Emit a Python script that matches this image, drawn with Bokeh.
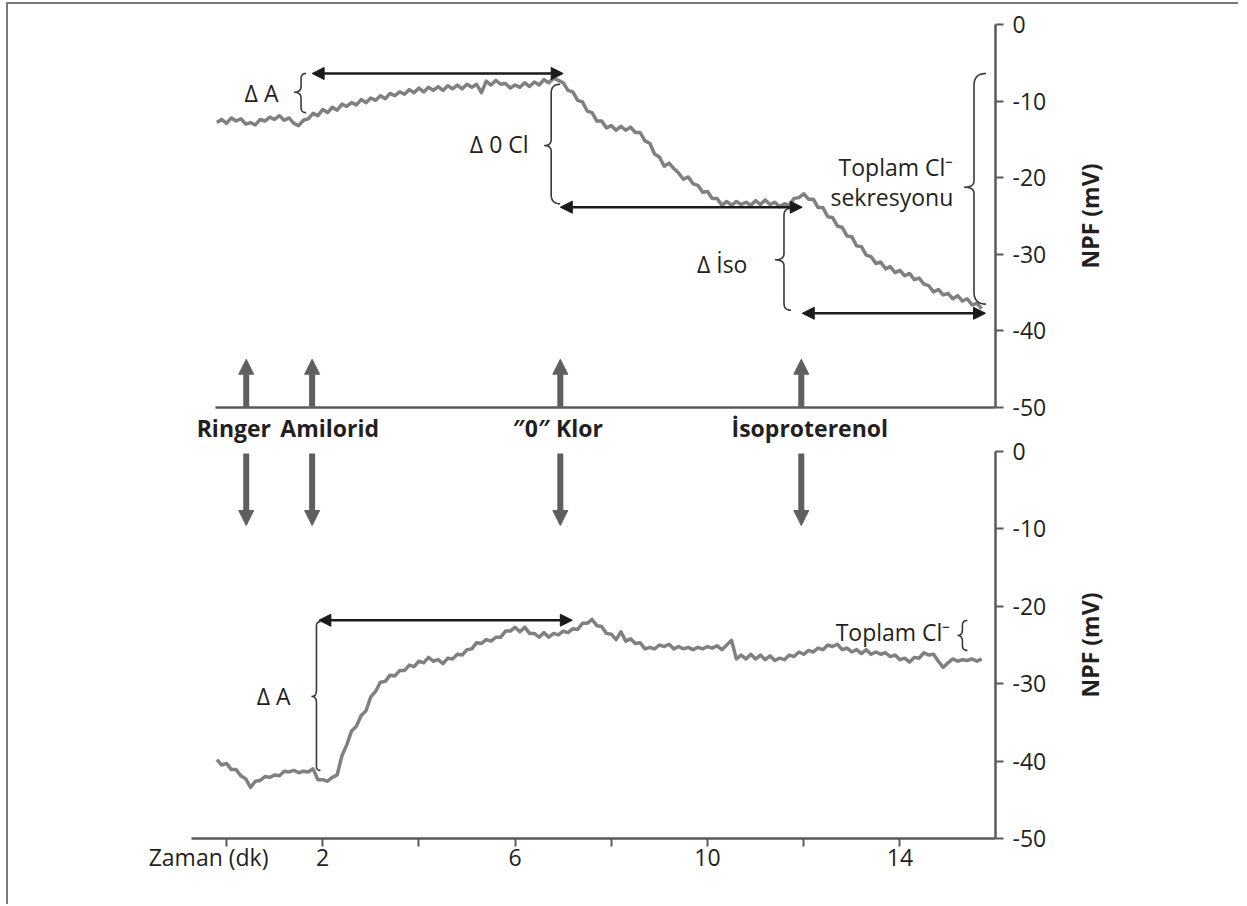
import numpy as np
from bokeh.plotting import figure
from bokeh.models import Range1d, LinearAxis, FixedTicker, Arrow, NormalHead, Label
from bokeh.layouts import column
from bokeh.embed import file_html
from bokeh.resources import INLINE

# ------------------------------------------------------------------ data
time_start = -0.2          # min
time_step = 0.1            # min

top_npf = [
    -12.8, -12.4, -12.9, -12.2, -12.6, -12.3, -13.0, -12.8, -13.1, -12.4,
    -12.6, -12.1, -12.4, -11.9, -12.5, -12.2, -12.9, -13.2, -12.5, -12.3,
    -11.6, -11.9, -11.1, -11.5, -10.8, -11.2, -10.4, -10.7, -10.2, -10.5,
    -9.8, -10.2, -9.6, -9.9, -9.3, -9.7, -9.0, -9.3, -8.8, -9.1,
    -8.5, -8.9, -8.3, -8.8, -8.2, -8.6, -8.1, -8.6, -8.0, -8.4,
    -7.9, -8.4, -7.8, -8.2, -7.8, -8.9, -7.4, -7.9, -7.3, -7.8,
    -7.7, -8.3, -7.9, -8.2, -7.6, -8.1, -7.5, -7.9, -7.2, -7.6,
    -7.0, -7.3, -7.6, -8.6, -8.8, -9.9, -10.1, -11.3, -11.5, -12.6,
    -12.6, -13.5, -13.2, -13.8, -13.3, -13.8, -13.4, -14.1, -14.1, -15.2,
    -15.5, -16.9, -17.3, -18.5, -18.1, -18.8, -19.4, -20.2, -19.9, -20.8,
    -21.0, -21.9, -21.8, -22.7, -22.7, -23.6, -23.1, -23.6, -23.1, -23.5,
    -23.2, -23.6, -23.0, -23.5, -22.9, -23.5, -23.2, -23.8, -23.4, -23.6,
    -22.7, -22.6, -22.1, -22.8, -22.8, -23.9, -23.9, -25.1, -25.2, -26.3,
    -26.5, -27.6, -27.7, -28.9, -29.0, -30.1, -30.3, -31.2, -31.0, -31.9,
    -31.6, -32.4, -32.1, -32.8, -32.5, -33.3, -33.1, -33.9, -34.1, -34.9,
    -34.6, -35.3, -35.1, -35.8, -35.4, -36.1, -35.8, -36.6, -36.4, -37.1,
]

bottom_npf = [
    -39.8, -40.5, -40.3, -41.1, -41.1, -41.9, -42.3, -43.4, -42.6, -42.5,
    -42.0, -42.1, -41.8, -41.9, -41.3, -41.4, -41.2, -41.5, -41.3, -41.4,
    -41.0, -42.4, -42.4, -42.6, -42.1, -41.8, -39.3, -37.9, -36.1, -35.5,
    -34.1, -33.5, -31.7, -31.0, -29.8, -29.7, -28.9, -29.0, -28.3, -28.3,
    -27.6, -27.8, -27.1, -27.3, -26.6, -27.1, -26.9, -27.4, -26.7, -26.8,
    -26.2, -26.3, -25.6, -25.5, -24.7, -24.8, -24.3, -24.5, -24.0, -24.0,
    -23.2, -23.2, -22.7, -23.3, -22.7, -23.5, -23.5, -24.0, -23.4, -24.0,
    -23.5, -23.7, -23.2, -23.4, -22.9, -23.0, -22.2, -22.2, -21.7, -22.5,
    -22.6, -23.5, -23.6, -24.3, -23.3, -24.5, -24.2, -24.8, -24.7, -25.5,
    -25.3, -25.5, -25.0, -25.2, -24.9, -25.5, -25.2, -25.5, -25.3, -25.6,
    -25.3, -25.5, -25.2, -25.4, -25.1, -25.6, -25.0, -24.4, -26.8, -26.3,
    -26.8, -26.2, -26.8, -26.3, -26.9, -26.4, -27.0, -26.7, -26.9, -26.3,
    -26.5, -25.9, -26.2, -25.7, -25.9, -25.4, -25.6, -25.0, -25.2, -24.9,
    -25.6, -25.4, -25.9, -25.6, -26.1, -25.6, -26.2, -25.9, -26.2, -26.0,
    -26.5, -26.3, -26.9, -26.7, -27.2, -26.6, -26.7, -26.0, -26.3, -26.2,
    -27.1, -27.9, -27.3, -26.8, -27.1, -26.9, -27.0, -26.8, -27.1, -26.8,
]

time_min = [round(time_start + i * time_step, 1) for i in range(len(top_npf))]

event_names = ["Ringer", "Amilorid", "\u20330\u2033 Klor", "\u0130soproterenol"]
event_times = [0.41, 1.78, 6.94, 11.95]

x_ticks = [0, 2, 4, 6, 8, 10, 12, 14]
x_tick_labels = ["Zaman (dk)" + "\u00a0" * 6, "2", "", "6", "", "10", "", "14"]
y_ticks = [0, -10, -20, -30, -40, -50]
y_tick_labels = ["0", "-10", "-20", "-30", "-40", "-50"]
y_title = "NPF (mV)"

# measured intervals (double arrows): start time, end time, level (mV)
top_span_t0 = [1.78, 6.94, 11.97]
top_span_t1 = [7.00, 11.97, 15.78]
top_span_mv = [-6.4, -23.85, -37.7]
bot_span_t0 = [1.92]
bot_span_t1 = [7.19]
bot_span_mv = [-21.8]

# braces: time, upper level, lower level, tip level (mV)
top_brace_t = [1.55, 6.75, 11.59, 15.54]
top_brace_hi = [-6.4, -7.8, -24.0, -6.4]
top_brace_lo = [-11.5, -23.4, -37.3, -36.5]
top_brace_tip = [-8.84, -15.8, -30.72, -21.24]
bot_brace_t = [1.87, 15.30]
bot_brace_hi = [-22.0, -21.83]
bot_brace_lo = [-41.2, -25.7]
bot_brace_tip = [-31.65, -23.77]

top_notes = ["\u0394 A", "\u0394 0 Cl", "\u0394 \u0130so", "Toplam Cl\u207b", "sekresyonu"]
bot_notes = ["\u0394 A", "Toplam Cl\u207b"]

# ------------------------------------------------------------------ layout / style
FONT = "Open Sans"
TXT = "#231f20"
AXC = "#5a5a5a"
TRACE = "#808080"
PX_MIN = 48.1            # px per minute
PX_MV_TOP = 7.66
PX_MV_BOT = 7.74
W, H = 1230, 900
ORIGIN_X, ORIGIN_Y = 8, 4           # page position of the canvas
T0_PX, TOP0_PX, BOT0_PX = 226, 24, 451   # page px of t=0, top 0 mV, bottom 0 mV
CANVAS_BOTTOM = ORIGIN_Y + H

X_LO = (ORIGIN_X - T0_PX) / PX_MIN
X_HI = (ORIGIN_X + W - T0_PX) / PX_MIN
X_AXIS = (995 - T0_PX) / PX_MIN           # location of the mV axes
X_START = (191 - T0_PX) / PX_MIN          # start of the time axis line

top_brace_style = [(7, 5), (7, 9), (9, 7), (10, 12)]   # tip px, curl px
bot_brace_style = [(5, 4), (5, 5)]

top_note_pos = [(1.08, -8.88), (6.28, -15.57), (10.83, -31.24), (15.11, -18.63), (15.11, -22.55)]
bot_note_pos = [(1.33, -31.65), (15.05, -23.35)]
event_label_x = [-0.62, 1.12, 5.95, 10.50]
title_x = (1089 - T0_PX) / PX_MIN


def brace_path(x, y_hi, y_lo, y_tip, tip_px, curl_px, ky):
    def q(p0, c, p1, n=10):
        s = np.linspace(0, 1, n)[:, None]
        return (1 - s) ** 2 * np.array(p0) + 2 * (1 - s) * s * np.array(c) + s ** 2 * np.array(p1)
    yb = (y_hi - y_lo) * ky
    ym = (y_hi - y_tip) * ky
    r = curl_px
    rm = min(6.0, ym * 0.4, (yb - ym) * 0.4)
    pts = np.vstack([
        q((r, 0), (0, 0), (0, r)),
        q((0, ym - rm), (0, ym), (-tip_px, ym)),
        q((-tip_px, ym), (0, ym), (0, ym + rm)),
        q((0, yb - r), (0, yb), (r, yb)),
    ])
    return list(x + pts[:, 0] / PX_MIN), list(y_hi - pts[:, 1] / ky)


top_range = Range1d(-(CANVAS_BOTTOM - TOP0_PX) / PX_MV_TOP, (TOP0_PX - ORIGIN_Y) / PX_MV_TOP)
bot_range = Range1d(-(CANVAS_BOTTOM - BOT0_PX) / PX_MV_BOT, (BOT0_PX - ORIGIN_Y) / PX_MV_BOT)

p = figure(width=W, height=H, x_range=Range1d(X_LO, X_HI), y_range=top_range,
           x_axis_location=None, y_axis_location=None,
           output_backend="svg", toolbar_location=None,
           min_border_left=0, min_border_right=0, min_border_top=0, min_border_bottom=0,
           outline_line_color=None, background_fill_color="white",
           border_fill_color="white")
p.extra_y_ranges = {"bot": bot_range}
p.xgrid.visible = False
p.ygrid.visible = False

for rname in ["default", "bot"]:
    yax = LinearAxis(y_range_name=rname, fixed_location=X_AXIS, bounds=(-50, 0),
                     ticker=FixedTicker(ticks=y_ticks),
                     major_label_overrides=dict(zip(y_ticks, y_tick_labels)),
                     axis_line_color=AXC, axis_line_width=2.5,
                     major_tick_line_color=AXC, major_tick_line_width=2,
                     major_tick_in=0, major_tick_out=8, minor_tick_line_color=None,
                     major_label_text_font=FONT, major_label_text_font_size="23px",
                     major_label_text_color=TXT, major_label_standoff=9)
    p.add_layout(yax, "right")
    p.add_layout(Label(x=title_x, y=-25, y_range_name=rname, text=y_title, angle=np.pi / 2,
                       text_align="center", text_baseline="middle", text_font=FONT,
                       text_font_size="23px", text_font_style="bold", text_color=TXT))

xax = LinearAxis(y_range_name="bot", fixed_location=-50,
                 ticker=FixedTicker(ticks=x_ticks), bounds=(X_START, X_AXIS),
                 major_label_overrides=dict(zip(x_ticks, x_tick_labels)),
                 axis_line_color=AXC, axis_line_width=2.5,
                 major_tick_line_color=AXC, major_tick_line_width=2,
                 major_tick_in=0, major_tick_out=8, minor_tick_line_color=None,
                 major_label_text_font=FONT, major_label_text_font_size="23px",
                 major_label_text_color=TXT, major_label_standoff=-6)
p.add_layout(xax, "below")


def note(x, y, text, rname, align="right", bold=False):
    p.add_layout(Label(x=x, y=y, y_range_name=rname, text=text, text_align=align,
                       text_baseline="middle", text_font=FONT, text_font_size="23px",
                       text_font_style="bold" if bold else "normal", text_color=TXT))


def span_arrow(t0, t1, y, rname):
    head = dict(size=12, fill_color="#1a1a1a", line_color="#1a1a1a", line_width=1)
    p.add_layout(Arrow(x_start=t0, y_start=y, x_end=t1, y_end=y, y_range_name=rname,
                       start=NormalHead(**head), end=NormalHead(**head),
                       line_color="#1a1a1a", line_width=2.5))


def event_arrow(t, y0, y1, rname):
    p.add_layout(Arrow(x_start=t, y_start=y0, x_end=t, y_end=y1, y_range_name=rname,
                       end=NormalHead(size=15, fill_color="#5f5f5f", line_color="#5f5f5f", line_width=1),
                       line_color="#5f5f5f", line_width=6))


def braces(ts, his, los, tips, styles, ky, rname):
    bx, by = [], []
    for t, hi, lo, tip, (tp, cp) in zip(ts, his, los, tips, styles):
        xs, ys = brace_path(t, hi, lo, tip, tp, cp, ky)
        bx.append(xs)
        by.append(ys)
    p.multi_line(bx, by, y_range_name=rname, line_color="#3a3a3a", line_width=1.6)


# ------------------------------------------------------------------ top panel
p.segment(x0=[-0.23], y0=[-50], x1=[X_AXIS], y1=[-50], line_color=AXC, line_width=2.5)
p.line(time_min, top_npf, line_color=TRACE, line_width=3.5, line_join="round")
for t0, t1, y in zip(top_span_t0, top_span_t1, top_span_mv):
    span_arrow(t0, t1, y, "default")
braces(top_brace_t, top_brace_hi, top_brace_lo, top_brace_tip, top_brace_style, PX_MV_TOP, "default")
for txt, (x, y) in zip(top_notes, top_note_pos):
    note(x, y, txt, "default")
for t in event_times:
    event_arrow(t, -50, -43.7, "default")
for name, x in zip(event_names, event_label_x):
    note(x, -52.7, name, "default", align="left", bold=True)

# ------------------------------------------------------------------ bottom panel
p.line(time_min, bottom_npf, y_range_name="bot", line_color=TRACE, line_width=3.5, line_join="round")
for t0, t1, y in zip(bot_span_t0, bot_span_t1, bot_span_mv):
    span_arrow(t0, t1, y, "bot")
braces(bot_brace_t, bot_brace_hi, bot_brace_lo, bot_brace_tip, bot_brace_style, PX_MV_BOT, "bot")
for txt, (x, y) in zip(bot_notes, bot_note_pos):
    note(x, y, txt, "bot")
for t in event_times:
    event_arrow(t, -0.26, -9.56, "bot")

page = column(p, spacing=0,
              styles={"margin-left": "6px", "margin-top": "2px",
                      "border-top": "2px solid #7a7a7a", "border-left": "2px solid #7a7a7a"})

open("out.html", "w").write(file_html(page, INLINE))
